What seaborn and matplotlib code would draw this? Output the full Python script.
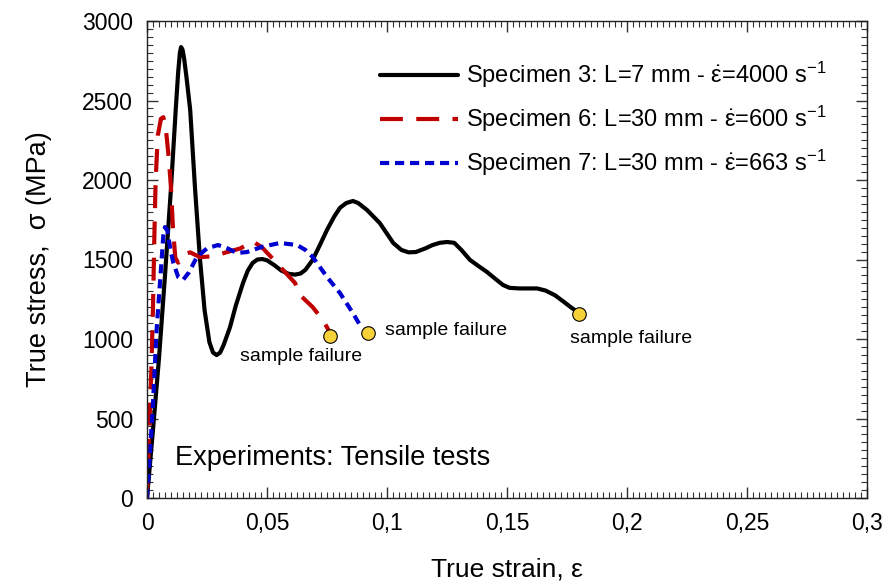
import numpy as np
import pandas as pd
import seaborn as sns
import matplotlib
matplotlib.use("Agg")
import matplotlib.pyplot as plt
from matplotlib.ticker import MultipleLocator, FuncFormatter

# Specimen 3: L = 7 mm, strain rate 4000 1/s
strain_s3 = [0, 0.0025, 0.005, 0.0075, 0.010, 0.012, 0.013, 0.0137, 0.0142, 0.0148,
             0.0155, 0.0165, 0.018, 0.020, 0.022, 0.024, 0.026, 0.0275, 0.029, 0.0305,
             0.032, 0.0346, 0.037, 0.040, 0.042, 0.044, 0.046, 0.048, 0.050, 0.053,
             0.056, 0.059, 0.0617, 0.064, 0.066, 0.069, 0.072, 0.075, 0.078, 0.0804,
             0.083, 0.0858, 0.088, 0.0917, 0.097, 0.1026, 0.106, 0.109, 0.112, 0.116,
             0.119, 0.122, 0.125, 0.128, 0.131, 0.1346, 0.138, 0.1417, 0.145, 0.1483,
             0.151, 0.155, 0.1625, 0.166, 0.170, 0.174, 0.177, 0.179]
stress_s3 = [0, 430, 880, 1400, 1950, 2450, 2680, 2800, 2836, 2820,
             2760, 2640, 2440, 1950, 1516, 1180, 980, 915, 899, 915,
             965, 1075, 1210, 1352, 1430, 1478, 1500, 1503, 1495, 1465,
             1430, 1410, 1405, 1412, 1435, 1497, 1590, 1686, 1770, 1825,
             1855, 1868, 1855, 1811, 1729, 1604, 1560, 1545, 1547, 1570,
             1591, 1605, 1610, 1605, 1560, 1497, 1460, 1421, 1380, 1340,
             1322, 1318, 1318, 1305, 1275, 1230, 1195, 1175]

# Specimen 6: L = 30 mm, strain rate 600 1/s
strain_s6 = [0, 0.0008, 0.0018, 0.0025, 0.003, 0.0036, 0.0045, 0.0058, 0.0068, 0.0078,
             0.0090, 0.0100, 0.0108, 0.0118, 0.013, 0.015, 0.018, 0.022, 0.0275, 0.033,
             0.039, 0.044, 0.048, 0.0525, 0.0567, 0.0617, 0.0637, 0.069, 0.0733, 0.077]
stress_s6 = [0, 380, 800, 1200, 1600, 2000, 2280, 2385, 2395, 2330,
             2150, 1950, 1700, 1510, 1480, 1530, 1545, 1515, 1520, 1545,
             1570, 1615, 1575, 1503, 1434, 1352, 1277, 1201, 1119, 1020]

# Specimen 7: L = 30 mm, strain rate 663 1/s
strain_s7 = [0, 0.001, 0.0025, 0.004, 0.006, 0.0068, 0.0075, 0.0085, 0.0098, 0.011,
             0.013, 0.015, 0.0175, 0.0208, 0.025, 0.0296, 0.0335, 0.0375, 0.0417, 0.048,
             0.0554, 0.0625, 0.066, 0.069, 0.075, 0.0804, 0.0858, 0.089]
stress_s7 = [0, 220, 597, 1056, 1478, 1650, 1704, 1680, 1560, 1478,
             1390, 1371, 1420, 1516, 1570, 1591, 1570, 1541, 1547, 1580,
             1604, 1591, 1560, 1516, 1390, 1289, 1163, 1080]

# Failure points
failure_strain = [0.0763, 0.092, 0.180]
failure_stress = [1019, 1038, 1157]

labels = [r"Specimen 3: L=7 mm - $\dot{\mathrm{\varepsilon}}$=4000 s$^{-1}$",
          r"Specimen 6: L=30 mm - $\dot{\mathrm{\varepsilon}}$=600 s$^{-1}$",
          r"Specimen 7: L=30 mm - $\dot{\mathrm{\varepsilon}}$=663 s$^{-1}$"]

sns.set_style("ticks")
plt.rcParams["font.family"] = ["Liberation Sans", "DejaVu Sans"]
plt.rcParams["mathtext.fontset"] = "custom"
plt.rcParams["mathtext.rm"] = "Liberation Sans"
plt.rcParams["mathtext.it"] = "Liberation Sans:italic"
plt.rcParams["text.color"] = "black"
plt.rcParams["axes.labelcolor"] = "black"
plt.rcParams["xtick.labelcolor"] = "black"
plt.rcParams["ytick.labelcolor"] = "black"

fig = plt.figure(figsize=(8.85, 5.82), dpi=100)
ax = fig.add_axes([147 / 885, 84 / 582, 720 / 885, 477 / 582])

df3 = pd.DataFrame({"strain": strain_s3, "stress": stress_s3})
df6 = pd.DataFrame({"strain": strain_s6, "stress": stress_s6})
df7 = pd.DataFrame({"strain": strain_s7, "stress": stress_s7})

line_kw = dict(sort=False, estimator=None, lw=3.0, solid_joinstyle="round",
               dash_joinstyle="round", solid_capstyle="round")
sns.lineplot(data=df3, x="strain", y="stress", ax=ax, color="black",
             label=labels[0], **line_kw)
sns.lineplot(data=df6, x="strain", y="stress", ax=ax, color="#c00000",
             label=labels[1], **line_kw)
sns.lineplot(data=df7, x="strain", y="stress", ax=ax, color="#0000d0",
             label=labels[2], **line_kw)
ax.lines[1].set_dashes((5.5, 3.2))
ax.lines[2].set_dashes((2.2, 1.4))

sns.scatterplot(x=failure_strain, y=failure_stress, ax=ax, color="#f7d13a",
                edgecolor="black", linewidth=0.8, s=95, zorder=5, legend=False)

ax.set_xlim(0, 0.3)
ax.set_ylim(0, 3000)
ax.xaxis.set_major_locator(MultipleLocator(0.05))
ax.xaxis.set_minor_locator(MultipleLocator(0.0025))
ax.yaxis.set_major_locator(MultipleLocator(500))
ax.yaxis.set_minor_locator(MultipleLocator(50))


def comma_fmt(v, pos):
    s = f"{v:.2f}".rstrip("0").rstrip(".")
    return s.replace(".", ",")


ax.xaxis.set_major_formatter(FuncFormatter(comma_fmt))
ax.tick_params(which="both", direction="in", top=True, right=True, colors="#333333",
               labelcolor="black")
ax.tick_params(which="major", length=8, width=1.0, labelsize=16.5, pad=10)
ax.tick_params(which="minor", length=4, width=0.8)
for sp in ax.spines.values():
    sp.set_color("#222222")
    sp.set_linewidth(1.0)

ax.set_xlabel("True strain, ε", fontsize=19, labelpad=16)
ax.set_ylabel("True stress,  σ (MPa)", fontsize=19.5, labelpad=22)

leg = ax.legend(loc="upper left", bbox_to_anchor=(0.324, 0.918), frameon=False,
                fontsize=17, handlelength=3.3, handletextpad=0.35, labelspacing=0.58,
                borderpad=0, borderaxespad=0)

ax.text(0.039, 0.084, "Experiments: Tensile tests", transform=ax.transAxes,
        fontsize=19.5, va="center", ha="left")
ax.text(0.064, 893, "sample failure", fontsize=14, ha="center", va="center")
ax.text(0.1246, 1056, "sample failure", fontsize=14, ha="center", va="center")
ax.text(0.2017, 1006, "sample failure", fontsize=14, ha="center", va="center")

fig.savefig("out.png", dpi=100)
